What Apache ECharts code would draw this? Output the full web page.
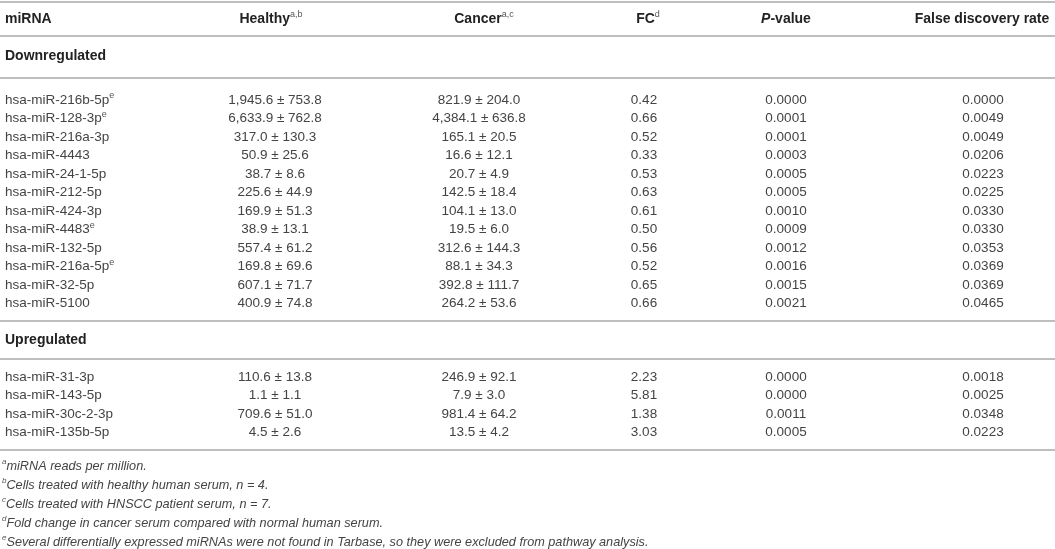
<!DOCTYPE html>
<html>
<head>
<meta charset="utf-8">
<script src="https://cdn.jsdelivr.net/npm/echarts@6/dist/echarts.min.js"></script>
<style>
  html, body { margin: 0; padding: 0; background: #fff; }
  #chart { width: 1055px; height: 549px; }
</style>
</head>
<body>
<div id="chart"></div>
<script>
// ---- table data ----
const downNames = ['hsa-miR-216b-5p', 'hsa-miR-128-3p', 'hsa-miR-216a-3p', 'hsa-miR-4443', 'hsa-miR-24-1-5p',
  'hsa-miR-212-5p', 'hsa-miR-424-3p', 'hsa-miR-4483', 'hsa-miR-132-5p', 'hsa-miR-216a-5p', 'hsa-miR-32-5p', 'hsa-miR-5100'];
const downNotFound = [true, true, false, false, false, false, false, true, false, true, false, false];
const downHealthy = [[1945.6, 753.8], [6633.9, 762.8], [317.0, 130.3], [50.9, 25.6], [38.7, 8.6], [225.6, 44.9],
  [169.9, 51.3], [38.9, 13.1], [557.4, 61.2], [169.8, 69.6], [607.1, 71.7], [400.9, 74.8]];
const downCancer = [[821.9, 204.0], [4384.1, 636.8], [165.1, 20.5], [16.6, 12.1], [20.7, 4.9], [142.5, 18.4],
  [104.1, 13.0], [19.5, 6.0], [312.6, 144.3], [88.1, 34.3], [392.8, 111.7], [264.2, 53.6]];
const downFC = [0.42, 0.66, 0.52, 0.33, 0.53, 0.63, 0.61, 0.50, 0.56, 0.52, 0.65, 0.66];
const downP = [0.0000, 0.0001, 0.0001, 0.0003, 0.0005, 0.0005, 0.0010, 0.0009, 0.0012, 0.0016, 0.0015, 0.0021];
const downFDR = [0.0000, 0.0049, 0.0049, 0.0206, 0.0223, 0.0225, 0.0330, 0.0330, 0.0353, 0.0369, 0.0369, 0.0465];

const upNames = ['hsa-miR-31-3p', 'hsa-miR-143-5p', 'hsa-miR-30c-2-3p', 'hsa-miR-135b-5p'];
const upNotFound = [false, false, false, false];
const upHealthy = [[110.6, 13.8], [1.1, 1.1], [709.6, 51.0], [4.5, 2.6]];
const upCancer = [[246.9, 92.1], [7.9, 3.0], [981.4, 64.2], [13.5, 4.2]];
const upFC = [2.23, 5.81, 1.38, 3.03];
const upP = [0.0000, 0.0000, 0.0011, 0.0005];
const upFDR = [0.0018, 0.0025, 0.0348, 0.0223];

const headers = ['miRNA', 'Healthy{sup|a,b}', 'Cancer{sup|a,c}', 'FC{sup|d}', '{bi|P}-value', 'False discovery rate'];
const sections = ['Downregulated', 'Upregulated'];
const footnotes = [
  ['a', 'miRNA reads per million.'],
  ['b', 'Cells treated with healthy human serum, {i2|n} = 4.'],
  ['c', 'Cells treated with HNSCC patient serum, {i2|n} = 7.'],
  ['d', 'Fold change in cancer serum compared with normal human serum.'],
  ['e', 'Several differentially expressed miRNAs were not found in Tarbase, so they were excluded from pathway analysis.']
];

// ---- layout (pixels of the 1055 x 549 canvas) ----
const W = 1055, H = 549;
const colX = { name: 5, healthy: 275, cancer: 479, fc: 644, p: 786, fdr: 983 };
const headX = { name: 5, healthy: 271, cancer: 484, fc: 648, p: 786, fdr: 982 };
const rowY = { head: 19, downSec: 56, down0: 100, upSec: 340, up0: 377, foot0: 466 };
const rowStep = 18.5, footStep = 19.1;
const ruleYs = [2, 36, 78, 321, 359, 450];

const fmt1 = v => v.toLocaleString('en-US', { minimumFractionDigits: 1, maximumFractionDigits: 1 });

const cells = [];
function add(x, y, text, align, kind) { cells.push({ x, y, text, align, kind }); }

Object.keys(headX).forEach((key, i) => {
  add(headX[key], rowY.head, headers[i], i === 0 ? 'left' : 'center', 'head');
});
add(colX.name, rowY.downSec, sections[0], 'left', 'head');
add(colX.name, rowY.upSec, sections[1], 'left', 'head');

function addBlock(y0, names, notFound, healthy, cancer, fc, p, fdr) {
  names.forEach((n, i) => {
    const y = y0 + i * rowStep;
    add(colX.name, y, n + (notFound[i] ? '{sup|e}' : ''), 'left', 'body');
    add(colX.healthy, y, fmt1(healthy[i][0]) + ' \u00b1 ' + fmt1(healthy[i][1]), 'center', 'body');
    add(colX.cancer, y, fmt1(cancer[i][0]) + ' \u00b1 ' + fmt1(cancer[i][1]), 'center', 'body');
    add(colX.fc, y, fc[i].toFixed(2), 'center', 'body');
    add(colX.p, y, p[i].toFixed(4), 'center', 'body');
    add(colX.fdr, y, fdr[i].toFixed(4), 'center', 'body');
  });
}
addBlock(rowY.down0, downNames, downNotFound, downHealthy, downCancer, downFC, downP, downFDR);
addBlock(rowY.up0, upNames, upNotFound, upHealthy, upCancer, upFC, upP, upFDR);

footnotes.forEach((f, i) => {
  add(2, rowY.foot0 + i * footStep, '{fsup|' + f[0] + '}' + f[1], 'left', 'foot');
});

const FONT = 'Liberation Sans, Arial, Helvetica, sans-serif';
const kindStyle = {
  head: { fontSize: 14, fontWeight: 'bold', fontStyle: 'normal', fill: '#222' },
  body: { fontSize: 13.5, fontWeight: 'normal', fontStyle: 'normal', fill: '#444' },
  foot: { fontSize: 12.7, fontWeight: 'normal', fontStyle: 'italic', fill: '#444' }
};
const rich = {
  sup: { fontSize: 9, verticalAlign: 'top', lineHeight: 17, fontFamily: FONT, fill: '#555' },
  fsup: { fontSize: 8, verticalAlign: 'top', lineHeight: 16, fontFamily: FONT, fontStyle: 'italic', fill: '#555' },
  bi: { fontSize: 14, fontWeight: 'bold', fontStyle: 'italic', lineHeight: 17, fontFamily: FONT, fill: '#222' },
  i2: { fontSize: 12.7, fontStyle: 'italic', lineHeight: 16, fontFamily: FONT, fill: '#444' }
};

const chart = echarts.init(document.getElementById('chart'), null, { renderer: 'canvas' });
chart.setOption({
  animation: false,
  backgroundColor: '#fff',
  grid: { left: 0, right: 0, top: 0, bottom: 0 },
  xAxis: { type: 'value', min: 0, max: W, show: false },
  yAxis: { type: 'value', min: 0, max: H, inverse: true, show: false },
  series: [
    {
      type: 'custom',
      coordinateSystem: 'cartesian2d',
      data: ruleYs.map(y => [0, y]),
      renderItem: (params, api) => {
        const a = api.coord([0, api.value(1)]);
        const b = api.coord([W, api.value(1)]);
        return {
          type: 'line',
          shape: { x1: a[0], y1: a[1], x2: b[0], y2: b[1] },
          style: { stroke: '#a8a8a8', lineWidth: 1.5 }
        };
      }
    },
    {
      type: 'custom',
      coordinateSystem: 'cartesian2d',
      data: cells.map(c => [c.x, c.y]),
      renderItem: (params, api) => {
        const c = cells[params.dataIndex];
        const p = api.coord([api.value(0), api.value(1)]);
        const s = kindStyle[c.kind];
        return {
          type: 'text',
          x: p[0],
          y: p[1],
          style: {
            text: c.text,
            rich: rich,
            align: c.align,
            verticalAlign: 'middle',
            fontFamily: FONT,
            fontSize: s.fontSize,
            fontWeight: s.fontWeight,
            fontStyle: s.fontStyle,
            lineHeight: 17,
            fill: s.fill
          }
        };
      }
    }
  ]
});
window.addEventListener('resize', () => chart.resize());
</script>
</body>
</html>
